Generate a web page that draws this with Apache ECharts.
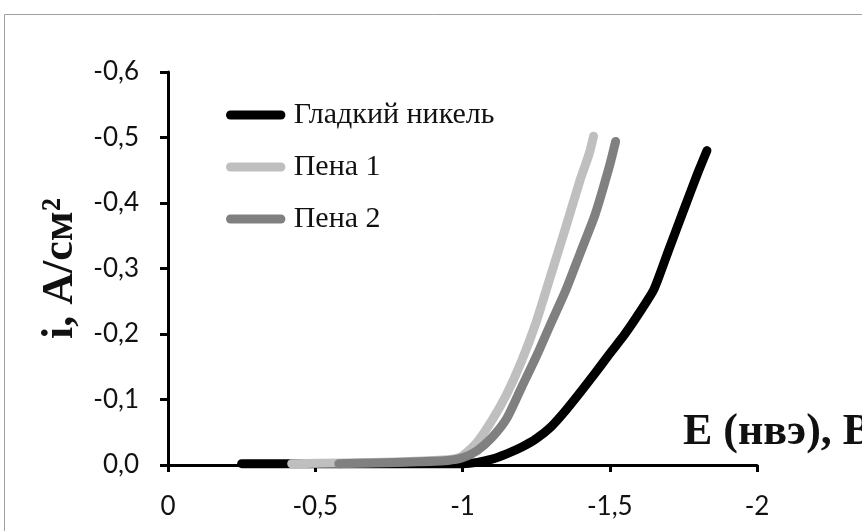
<!DOCTYPE html>
<html>
<head>
<meta charset="utf-8">
<script src="https://cdn.jsdelivr.net/npm/echarts@6/dist/echarts.min.js"></script>
<style>
html,body{margin:0;padding:0;background:#fff;}
#chart{width:862px;height:531px;}
</style>
</head>
<body>
<div id="chart"></div>
<script>
// ---- data (E in V vs NHE, i in A/cm2) ----
const seriesNames = ['Гладкий никель', 'Пена 1', 'Пена 2'];
const seriesColors = ['#000000', '#bfbfbf', '#808080'];

const nickelE = [-0.25, -0.5, -0.75, -0.95, -1.0, -1.05, -1.1, -1.15, -1.2, -1.25, -1.3, -1.35, -1.4, -1.45, -1.5, -1.55, -1.6, -1.65, -1.7, -1.75, -1.8, -1.83];
const nickelI = [-0.002, -0.002, -0.002, -0.002, -0.002, -0.004, -0.009, -0.017, -0.027, -0.040, -0.058, -0.083, -0.111, -0.140, -0.170, -0.199, -0.232, -0.268, -0.328, -0.388, -0.447, -0.480];

const foam1E = [-0.42, -0.6, -0.8, -0.95, -0.98, -1.0, -1.05, -1.1, -1.15, -1.2, -1.25, -1.3, -1.35, -1.4, -1.43, -1.445];
const foam1I = [-0.002, -0.003, -0.005, -0.008, -0.010, -0.014, -0.035, -0.068, -0.108, -0.158, -0.218, -0.290, -0.362, -0.436, -0.475, -0.502];

const foam2E = [-0.58, -0.7, -0.85, -0.95, -1.0, -1.05, -1.1, -1.15, -1.2, -1.25, -1.3, -1.35, -1.4, -1.45, -1.5, -1.52];
const foam2I = [-0.002, -0.003, -0.005, -0.007, -0.011, -0.022, -0.042, -0.071, -0.118, -0.165, -0.216, -0.266, -0.324, -0.382, -0.458, -0.494];

const xTitle = 'E (нвэ), В';
const yTitle = 'i, A/см²';

function pairs(xs, ys) { return xs.map((x, k) => [x, ys[k]]); }
const seriesData = [pairs(nickelE, nickelI), pairs(foam1E, foam1I), pairs(foam2E, foam2I)];

const chart = echarts.init(document.getElementById('chart'), null, {renderer: 'canvas'});
const capsule = 'path://M5,0 L61,0 A5,5 0 0 1 61,10 L5,10 A5,5 0 0 1 5,0 Z';

const option = {
  animation: false,
  backgroundColor: '#ffffff',
  grid: {left: 168, right: 105, top: 72, bottom: 66, containLabel: false, outerBoundsMode: 'none'},
  legend: {
    orient: 'vertical',
    left: 221, top: 95,
    itemWidth: 66, itemHeight: 9, itemGap: 22,
    icon: capsule,
    data: seriesNames.map((n, k) => ({name: n, itemStyle: {color: seriesColors[k]}})),
    textStyle: {fontFamily: 'Liberation Serif', fontSize: 30, color: '#111'},
    selectedMode: false
  },
  xAxis: {
    type: 'value', min: -2, max: 0, interval: 0.5, inverse: true,
    axisLine: {onZero: false, lineStyle: {color: '#000', width: 3}},
    axisTick: {show: true, inside: false, length: 7, lineStyle: {color: '#000', width: 3}},
    splitLine: {show: false},
    axisLabel: {
      margin: 29, fontFamily: 'Lato', fontSize: 26, color: '#111',
      formatter: v => Math.abs(v) < 1e-9 ? '0' : String(+v.toFixed(2)).replace('.', ',')
    }
  },
  yAxis: {
    type: 'value', min: -0.6, max: 0, interval: 0.1, inverse: true,
    name: yTitle, nameLocation: 'middle', nameRotate: 90, nameGap: 82,
    nameTextStyle: {fontFamily: 'Liberation Serif', fontWeight: 'bold', fontSize: 44, color: '#111'},
    axisLine: {onZero: false, lineStyle: {color: '#000', width: 3}},
    axisTick: {show: true, inside: false, length: 8, lineStyle: {color: '#000', width: 3}},
    splitLine: {show: false},
    axisLabel: {
      margin: 29, fontFamily: 'Lato', fontSize: 26, color: '#111', padding: [3, 0, 0, 0],
      formatter: v => (Math.abs(v) < 1e-9 ? 0 : v).toFixed(1).replace('.', ',')
    }
  },
  series: seriesNames.map((n, k) => ({
    name: n, type: 'line', data: seriesData[k],
    showSymbol: false, smooth: 0.2,
    lineStyle: {color: seriesColors[k], width: 9, cap: 'round', join: 'round'},
    itemStyle: {color: seriesColors[k]},
    z: 2 + k
  })),
  graphic: [
    {type: 'rect', z: -10, silent: true,
     shape: {x: 4.5, y: 14.5, width: 900, height: 600},
     style: {fill: null, stroke: '#a0a0a0', lineWidth: 1}},
    {type: 'text', z: 10, silent: true,
     style: {text: xTitle, x: 683, y: 433, verticalAlign: 'middle', align: 'left',
             font: 'bold 44px "Liberation Serif"', fill: '#111'}}
  ]
};
chart.setOption(option);
</script>
</body>
</html>
